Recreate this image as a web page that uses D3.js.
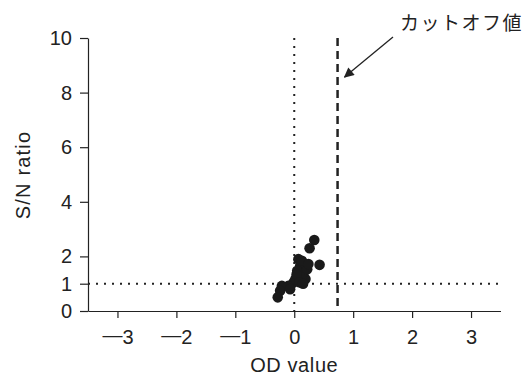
<!DOCTYPE html>
<html>
<head>
<meta charset="utf-8">
<script src="https://cdn.jsdelivr.net/npm/d3@7"></script>
<style>
  body { margin: 0; background: #fff; }
  text { font-family: "Liberation Sans", Arial, sans-serif; fill: #222; }
</style>
</head>
<body>
<div class="canvas"></div>
<script>
// data 데이터
const odValues = [0.34, 0.26, 0.43, 0.07, 0.10, 0.16, 0.05, 0.07, 0.19, -0.01, -0.10, -0.21, -0.24, -0.28, -0.07, 0.02, 0.13, 0.22, 0.13, 0.24, 0.04, 0.09, 0.15];
const snValues = [2.60, 2.30, 1.69, 1.90, 1.65, 1.41, 1.47, 1.23, 1.17, 1.05, 0.92, 0.92, 0.74, 0.50, 0.80, 1.17, 1.29, 1.53, 1.84, 1.72, 1.35, 1.05, 1.00];
const xTicks = [-3, -2, -1, 0, 1, 2, 3];
const yTicks = [0, 1, 2, 4, 6, 8, 10];
const cutoff = 0.735;
const snThreshold = 1;
const labelText = "カットオフ値";

// dimensions 치수
const dims = { width: 527, height: 378 };
const margin = { top: 38, right: 26.5, bottom: 67, left: 88 };

const svg = d3
  .select(".canvas")
  .append("svg")
  .attr("width", dims.width)
  .attr("height", dims.height);

const x = d3.scaleLinear().domain([-3.5, 3.5]).range([margin.left, dims.width - margin.right]);
const y = d3.scaleLinear().domain([0, 10]).range([dims.height - margin.bottom, margin.top]);

// axes
const xAxis = svg
  .append("g")
  .attr("transform", `translate(0, ${y(0)})`)
  .call(d3.axisBottom(x).tickValues(xTicks).tickSize(7).tickSizeOuter(0).tickPadding(7).tickFormat(d => Math.abs(d)));

const yAxis = svg
  .append("g")
  .attr("transform", `translate(${x(-3.5)}, 0)`)
  .call(d3.axisLeft(y).tickValues(yTicks).tickSize(8).tickSizeOuter(0).tickPadding(8));

[xAxis, yAxis].forEach(g => {
  g.select(".domain").attr("stroke", "#222").attr("stroke-width", 1.2);
  g.selectAll(".tick line").attr("stroke", "#222").attr("stroke-width", 1.2);
  g.selectAll("text").style("font-size", "20px").attr("fill", "#222");
});
xAxis.selectAll("text").attr("dy", "0.95em");

// 긴 마이너스 기호 (약간 위로)
xAxis.selectAll("text")
  .filter(d => d < 0)
  .text(null)
  .attr("dy", null)
  .each(function(d) {
    const t = d3.select(this);
    t.append("tspan").attr("dy", "0.87em").text("\u2014");
    t.append("tspan").attr("dy", "0.08em").text(-d);
  });

// axis titles
svg.append("text")
  .attr("x", x(0))
  .attr("y", 372)
  .attr("text-anchor", "middle")
  .style("font-size", "20px")
  .attr("letter-spacing", 0.6)
  .text("OD value");

svg.append("text")
  .attr("transform", `translate(29.5, 175) rotate(-90)`)
  .attr("text-anchor", "middle")
  .style("font-size", "20px")
  .attr("letter-spacing", 1.2)
  .text("S/N ratio");

// reference lines
svg.append("line")
  .attr("x1", x(0)).attr("x2", x(0))
  .attr("y1", y(10)).attr("y2", y(0))
  .attr("stroke", "#222").attr("stroke-width", 2)
  .attr("stroke-dasharray", "2,6");

svg.append("line")
  .attr("x1", x(-3.5)).attr("x2", x(3.5))
  .attr("y1", y(snThreshold)).attr("y2", y(snThreshold))
  .attr("stroke", "#222").attr("stroke-width", 2)
  .attr("stroke-dasharray", "2,6");

svg.append("line")
  .attr("x1", x(cutoff)).attr("x2", x(cutoff))
  .attr("y1", y(10)).attr("y2", y(0))
  .attr("stroke", "#222").attr("stroke-width", 2.5)
  .attr("stroke-dasharray", "8,5");

// points
svg.append("g")
  .selectAll("circle")
  .data(odValues.map((d, i) => ({ od: d, sn: snValues[i] })))
  .enter()
  .append("circle")
  .attr("cx", d => x(d.od))
  .attr("cy", d => y(d.sn))
  .attr("r", 5.3)
  .attr("fill", "#1a1a1a");

// annotation
svg.append("defs")
  .append("marker")
  .attr("id", "arrow")
  .attr("viewBox", "0 0 10 10")
  .attr("refX", 9)
  .attr("refY", 5)
  .attr("markerWidth", 14)
  .attr("markerHeight", 10)
  .attr("markerUnits", "userSpaceOnUse")
  .attr("orient", "auto")
  .append("path")
  .attr("d", "M0,0 L10,5 L0,10 Z")
  .attr("fill", "#222");

svg.append("line")
  .attr("x1", 393).attr("y1", 37)
  .attr("x2", x(cutoff) + 7).attr("y2", 77)
  .attr("stroke", "#222").attr("stroke-width", 1.3)
  .attr("marker-end", "url(#arrow)");

svg.append("text")
  .attr("x", 400)
  .attr("y", 30)
  .attr("font-size", 19)
  .attr("letter-spacing", 1.5)
  .style("font-family", "'Noto Sans CJK JP', sans-serif")
  .text(labelText);
</script>
</body>
</html>
